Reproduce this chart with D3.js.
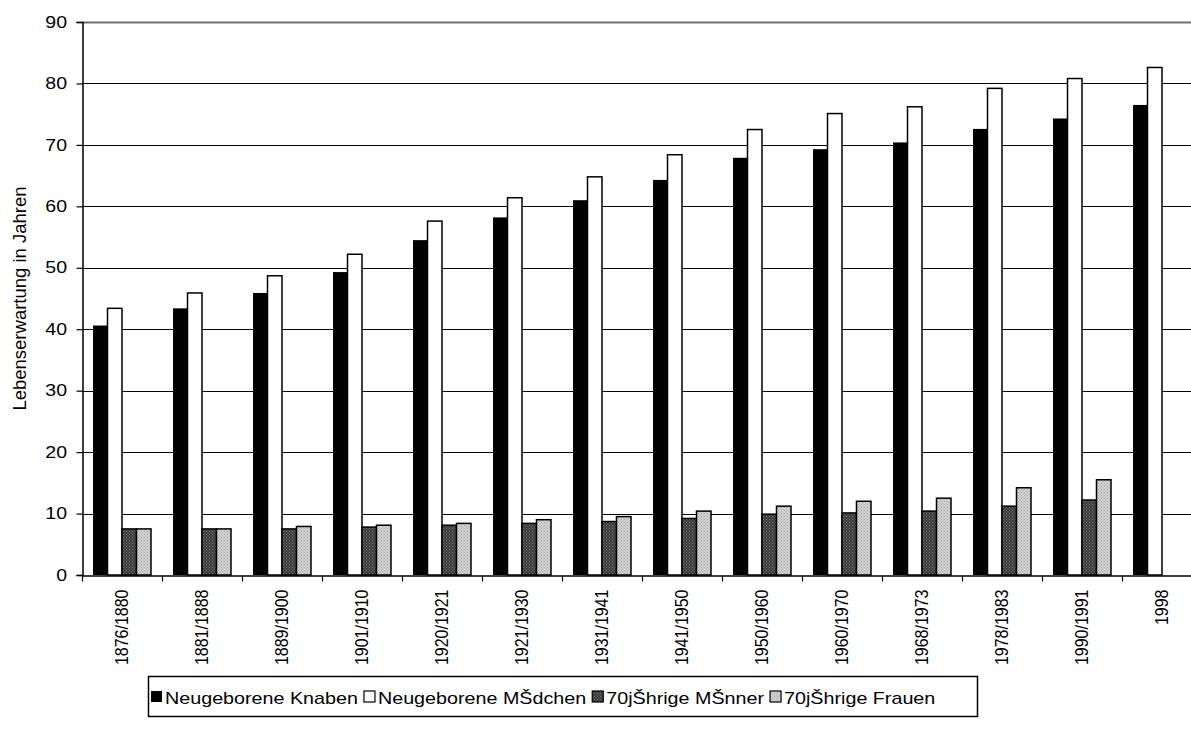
<!DOCTYPE html>
<html>
<head>
<meta charset="utf-8">
<script src="https://cdn.jsdelivr.net/npm/d3@7"></script>
<style>
  html, body { margin: 0; padding: 0; background: #fff; }
  svg { display: block; font-family: "Liberation Sans", Arial, sans-serif; }
</style>
</head>
<body>
<svg id="chart" width="1191" height="740"></svg>
<script>
// Zeiträume der Sterbetafeln
const periods = ["1876/1880", "1881/1888", "1889/1900", "1901/1910", "1920/1921", "1921/1930",
  "1931/1941", "1941/1950", "1950/1960", "1960/1970", "1968/1973", "1978/1983", "1990/1991", "1998"];

// Lebenserwartung in Jahren
const knaben   = [40.6, 43.4, 45.9, 49.3, 54.5, 58.2, 61.0, 64.3, 67.9, 69.3, 70.4, 72.6, 74.3, 76.5];
const maedchen = [43.4, 45.9, 48.7, 52.2, 57.6, 61.4, 64.8, 68.4, 72.5, 75.1, 76.2, 79.2, 80.8, 82.6];
const maenner70 = [7.5, 7.5, 7.5, 7.8, 8.1, 8.4, 8.7, 9.2, 9.9, 10.1, 10.4, 11.2, 12.2, null];
const frauen70  = [7.5, 7.5, 7.9, 8.1, 8.4, 9.0, 9.5, 10.4, 11.2, 12.0, 12.5, 14.2, 15.5, null];

const seriesNames = ["Neugeborene Knaben", "Neugeborene MŠdchen", "70jŠhrige MŠnner", "70jŠhrige Frauen"];
const yTicks = [0, 10, 20, 30, 40, 50, 60, 70, 80, 90];

const seriesValues = [knaben, maedchen, maenner70, frauen70];

// horizontal text in this chart is set a little wide
const stretch = 1.22;

const svg = d3.select("#chart");
const defs = svg.append("defs");

// dark checker fill
const pDark = defs.append("pattern").attr("id", "pDark")
  .attr("width", 3).attr("height", 3).attr("patternUnits", "userSpaceOnUse");
pDark.append("rect").attr("width", 3).attr("height", 3).attr("fill", "#3a3a3a");
pDark.append("rect").attr("x", 0).attr("y", 0).attr("width", 1).attr("height", 1).attr("fill", "#7a7a7a");
pDark.append("rect").attr("x", 1.5).attr("y", 1.5).attr("width", 1).attr("height", 1).attr("fill", "#7a7a7a");

// light dotted fill
const pLight = defs.append("pattern").attr("id", "pLight")
  .attr("width", 3).attr("height", 3).attr("patternUnits", "userSpaceOnUse");
pLight.append("rect").attr("width", 3).attr("height", 3).attr("fill", "#d2d2d2");
pLight.append("rect").attr("x", 0).attr("y", 0).attr("width", 1).attr("height", 1).attr("fill", "#a8a8a8");
pLight.append("rect").attr("x", 1.5).attr("y", 1.5).attr("width", 1).attr("height", 1).attr("fill", "#a8a8a8");

const fills = ["#000", "#fff", "url(#pDark)", "url(#pLight)"];

const plotLeft = 82, plotTop = 22, plotBottom = 575;
const step = 80;
const plotRight = plotLeft + step * periods.length;

const x = d3.scaleBand().domain(periods).range([plotLeft, plotRight])
  .paddingInner(0.275).paddingOuter(0.1375);
const xs = d3.scaleBand().domain(d3.range(seriesNames.length)).range([0, x.bandwidth()]);
const y = d3.scaleLinear().domain([0, 90]).range([plotBottom, plotTop]);

// gridlines
svg.append("g").selectAll("line").data(yTicks.filter(t => t > 0 && t < 90)).join("line")
  .attr("x1", plotLeft).attr("x2", plotRight)
  .attr("y1", d => Math.round(y(d)) + 0.5).attr("y2", d => Math.round(y(d)) + 0.5)
  .attr("stroke", "#000").attr("stroke-width", 1.2);

// top frame line
svg.append("line").attr("x1", plotLeft).attr("x2", plotRight)
  .attr("y1", Math.round(y(90)) + 0.5).attr("y2", Math.round(y(90)) + 0.5)
  .attr("stroke", "#6e6e6e").attr("stroke-width", 2);

// bars
const groups = svg.append("g").selectAll("g").data(periods).join("g")
  .attr("transform", d => `translate(${x(d)},0)`);
groups.selectAll("rect")
  .data((p, i) => seriesValues.map((vals, s) => ({ s, v: vals[i] })).filter(d => d.v != null))
  .join("rect")
  .attr("x", d => xs(d.s))
  .attr("width", xs.bandwidth())
  .attr("y", d => y(d.v))
  .attr("height", d => y(0) - y(d.v))
  .attr("fill", d => fills[d.s])
  .attr("stroke", "#000")
  .attr("stroke-width", d => d.s === 0 ? 0 : 1.5);

// y axis
const yAxis = svg.append("g").attr("transform", `translate(${plotLeft + 0.5},0)`)
  .call(d3.axisLeft(y).tickValues(yTicks).tickSize(6).tickPadding(9).tickFormat(d3.format("d")));
yAxis.select(".domain").attr("stroke", "#000").attr("stroke-width", 1.5);
yAxis.selectAll(".tick line").attr("stroke", "#000").attr("stroke-width", 1.2);
yAxis.selectAll("text").attr("font-size", 16).attr("fill", "#000")
  .attr("font-family", "Liberation Sans, Arial, sans-serif")
  .attr("x", 0)
  .attr("transform", `translate(-15.5,0) scale(${stretch},1)`);

// x axis
const xAxis = svg.append("g").attr("transform", `translate(0,${plotBottom + 0.5})`)
  .call(d3.axisBottom(x).tickSize(0).tickPadding(0));
xAxis.select(".domain").attr("stroke", "#000").attr("stroke-width", 1.5);
xAxis.selectAll(".tick text")
  .attr("font-size", 16).attr("fill", "#000")
  .attr("font-family", "Liberation Sans, Arial, sans-serif")
  .attr("text-anchor", "end")
  .attr("dy", "0.35em")
  .attr("transform", "translate(0,14) scale(1.1,1) rotate(-90)")
  .attr("x", 0).attr("y", 0);
// category boundary ticks
xAxis.append("g").selectAll("line").data(d3.range(periods.length + 1)).join("line")
  .attr("x1", i => plotLeft + i * step + 0.5).attr("x2", i => plotLeft + i * step + 0.5)
  .attr("y1", 0).attr("y2", 6).attr("stroke", "#000").attr("stroke-width", 1.2);

// y axis title
svg.append("text")
  .attr("transform", `translate(26,${(plotTop + plotBottom) / 2}) rotate(-90)`)
  .attr("text-anchor", "middle")
  .attr("font-size", 18.5)
  .text("Lebenserwartung in Jahren");

// legend
const lg = svg.append("g");
lg.append("rect").attr("x", 148.5).attr("y", 676.5).attr("width", 829).attr("height", 40)
  .attr("fill", "#fff").attr("stroke", "#000").attr("stroke-width", 1.5);
let lx = 151;
seriesNames.forEach((name, i) => {
  lg.append("rect").attr("x", lx).attr("y", 691).attr("width", 11).attr("height", 11)
    .attr("fill", fills[i]).attr("stroke", "#000").attr("stroke-width", i === 0 ? 0 : 1.2);
  const tx = lx + 14;
  const t = lg.append("text")
    .attr("transform", `translate(${tx},704) scale(1.16,1)`)
    .attr("font-size", 17).text(name);
  lx = tx + t.node().getComputedTextLength() * 1.16 + 6;
});
</script>
</body>
</html>
